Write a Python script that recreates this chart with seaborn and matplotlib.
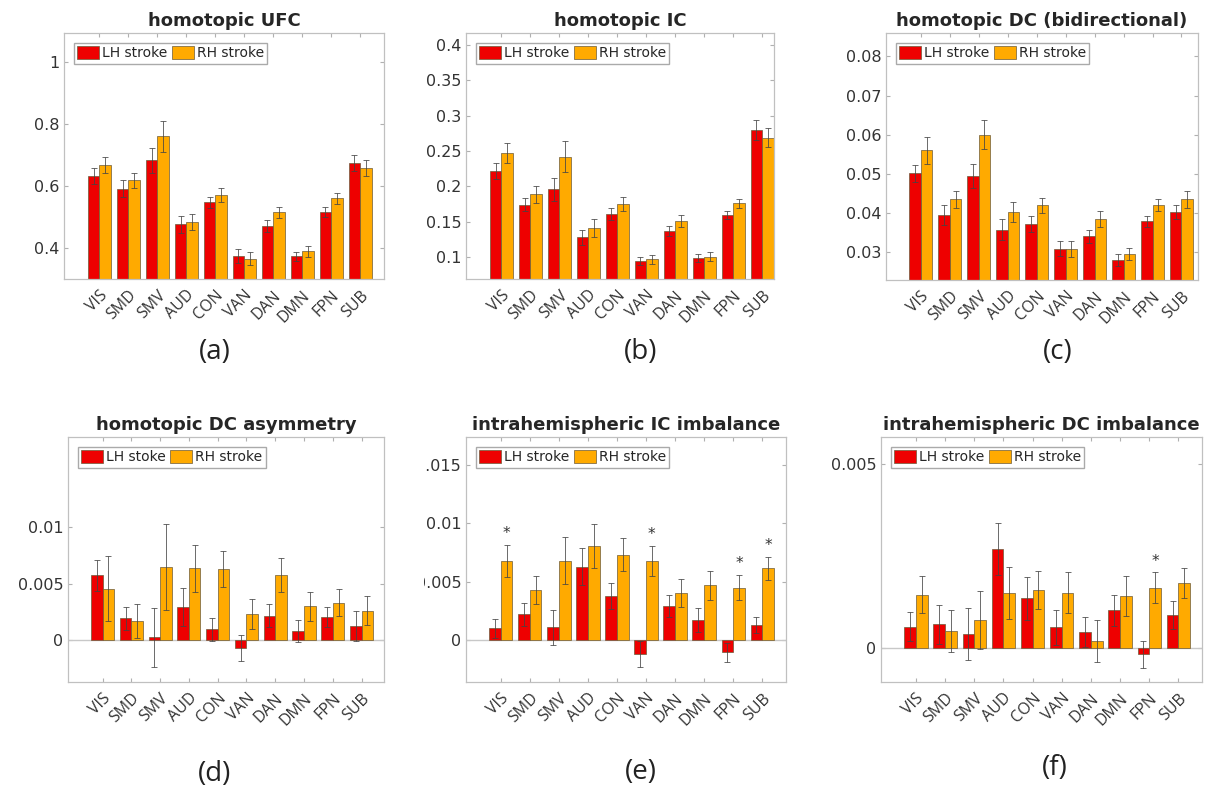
import numpy as np
import pandas as pd
import matplotlib
matplotlib.use("Agg")
import matplotlib.pyplot as plt
from matplotlib.patches import Rectangle
import seaborn as sns

# ── Data ────────────────────────────────────────────────────────────────────
NETWORKS = ["VIS", "SMD", "SMV", "AUD", "CON", "VAN", "DAN", "DMN", "FPN", "SUB"]
COLORS = ["#EE0000", "#FFAA00"]

# (a) homotopic UFC
UFC_LH = [0.633, 0.591, 0.683, 0.477, 0.548, 0.375, 0.471, 0.373, 0.516, 0.674]
UFC_RH = [0.668, 0.618, 0.761, 0.485, 0.570, 0.366, 0.515, 0.390, 0.560, 0.659]
UFC_LH_ERR = [0.026, 0.027, 0.041, 0.027, 0.018, 0.023, 0.018, 0.014, 0.015, 0.026]
UFC_RH_ERR = [0.027, 0.025, 0.050, 0.026, 0.023, 0.022, 0.019, 0.018, 0.017, 0.026]

# (b) homotopic IC
IC_LH = [0.222, 0.174, 0.196, 0.128, 0.161, 0.095, 0.137, 0.099, 0.160, 0.280]
IC_RH = [0.247, 0.189, 0.242, 0.141, 0.175, 0.097, 0.151, 0.101, 0.176, 0.269]
IC_LH_ERR = [0.011, 0.009, 0.016, 0.010, 0.008, 0.006, 0.0075, 0.0056, 0.006, 0.014]
IC_RH_ERR = [0.0136, 0.012, 0.022, 0.0127, 0.0099, 0.0066, 0.0085, 0.0066, 0.0066, 0.014]

# (c) homotopic DC (bidirectional)
DC_LH = [0.0501, 0.0395, 0.0495, 0.0357, 0.0372, 0.0308, 0.0340, 0.0280, 0.0378, 0.0402]
DC_RH = [0.0560, 0.0434, 0.0600, 0.0402, 0.0419, 0.0307, 0.0384, 0.0295, 0.0420, 0.0435]
DC_LH_ERR = [0.0022, 0.0026, 0.0031, 0.0026, 0.0020, 0.0019, 0.0017, 0.0015, 0.0014, 0.0018]
DC_RH_ERR = [0.0034, 0.0023, 0.0037, 0.0026, 0.0020, 0.0020, 0.0020, 0.0015, 0.0016, 0.0022]

# (d) homotopic DC asymmetry
ASYM_LH = [0.00575, 0.00195, 0.00027, 0.00292, 0.00097, -0.00065, 0.00218, 0.0008, 0.00206, 0.00127]
ASYM_RH = [0.00457, 0.00174, 0.00652, 0.00637, 0.00634, 0.00233, 0.00575, 0.0030, 0.00333, 0.00262]
ASYM_LH_ERR = [0.0014, 0.0010, 0.0026, 0.0017, 0.0010, 0.00115, 0.0010, 0.0010, 0.0009, 0.0013]
ASYM_RH_ERR = [0.0029, 0.0015, 0.0038, 0.0021, 0.0016, 0.00136, 0.0015, 0.0013, 0.0012, 0.0013]

# (e) intrahemispheric IC imbalance
ICIMB_LH = [0.00102, 0.00222, 0.00111, 0.00629, 0.00379, -0.0012, 0.00293, 0.00174, -0.00102, 0.00131]
ICIMB_RH = [0.0068, 0.00427, 0.0068, 0.00805, 0.00731, 0.00675, 0.00407, 0.0047, 0.0045, 0.00615]
ICIMB_LH_ERR = [0.00083, 0.0010, 0.0015, 0.00157, 0.0011, 0.0011, 0.00094, 0.0010, 0.0008, 0.00065]
ICIMB_RH_ERR = [0.00137, 0.0012, 0.0020, 0.0019, 0.0014, 0.0013, 0.0012, 0.00125, 0.0011, 0.0010]
ICIMB_STARS = ["VIS", "VAN", "FPN", "SUB"]

# (f) intrahemispheric DC imbalance
DCIMB_LH = [0.00058, 0.00065, 0.00038, 0.00268, 0.00135, 0.00056, 0.00044, 0.00103, -0.00017, 0.00089]
DCIMB_RH = [0.00145, 0.00046, 0.00076, 0.0015, 0.00158, 0.0015, 0.00019, 0.00142, 0.00163, 0.00176]
DCIMB_LH_ERR = [0.0004, 0.00053, 0.00071, 0.0007, 0.00058, 0.00048, 0.0004, 0.00042, 0.00036, 0.00038]
DCIMB_RH_ERR = [0.00051, 0.00057, 0.00078, 0.0007, 0.00051, 0.00056, 0.00057, 0.00054, 0.00042, 0.00041]
DCIMB_STARS = ["FPN"]

# ── Style ───────────────────────────────────────────────────────────────────
sns.set_theme(style="ticks")
plt.rcParams["font.family"] = ["DejaVu Sans"]

W, H = 1206, 789
fig = plt.figure(figsize=(W / 100, H / 100), dpi=100)
fig.patch.set_facecolor("white")


def add_axes(left, top, right, bottom):
    return fig.add_axes([left / W, 1 - bottom / H, (right - left) / W, (bottom - top) / H])


def draw_panel(ax, title, lh, rh, lh_err, rh_err, ylim, yticks, xlim,
               lh_label="LH stroke", stars=(), zero_line=False):
    df = pd.DataFrame({
        "network": NETWORKS * 2,
        "group": [lh_label] * len(NETWORKS) + ["RH stroke"] * len(NETWORKS),
        "value": list(lh) + list(rh),
    })
    sns.barplot(data=df, x="network", y="value", hue="group", palette=COLORS,
                saturation=1, errorbar=None, width=0.8, edgecolor="#6b5a3a",
                linewidth=0.5, ax=ax, zorder=2)

    if zero_line:
        ax.axhline(0, color="#c8c8c8", lw=1.0, zorder=1.5)

    # error bars from the bar centres
    for cont, vals, errs in zip(ax.containers, [lh, rh], [lh_err, rh_err]):
        xs = [p.get_x() + p.get_width() / 2 for p in cont]
        ax.errorbar(xs, vals, yerr=errs, fmt="none", ecolor="#444444",
                    elinewidth=0.7, capsize=2, capthick=0.7, alpha=0.8, zorder=3)
        if cont is ax.containers[1]:
            for name in stars:
                i = NETWORKS.index(name)
                ax.annotate("*", (xs[i], vals[i] + errs[i]), xytext=(0, 8),
                            textcoords="offset points", ha="center", va="center",
                            fontsize=11, color="#333333")

    handles, labels = ax.get_legend_handles_labels()
    ax.legend(handles, labels, ncol=2, loc="upper left", fontsize=10,
              frameon=True, fancybox=False, framealpha=1, edgecolor="#aaaaaa",
              handlelength=1.6, handleheight=1.0, handletextpad=0.2,
              columnspacing=0.3, borderpad=0.25, borderaxespad=0.7)

    ax.set_title(title, fontsize=13, fontweight="bold", pad=5)
    ax.set_xlabel("")
    ax.set_ylabel("")
    ax.set_xlim(*xlim)
    ax.set_ylim(*ylim)
    ax.set_yticks(yticks)
    ax.set_yticklabels([f"{v:g}" for v in np.round(yticks, 4)], fontsize=11.5)
    ax.set_xticks(range(len(NETWORKS)))
    ax.set_xticklabels(NETWORKS, rotation=45, ha="right", rotation_mode="anchor",
                       fontsize=11.5, family="Open Sans")
    ax.tick_params(direction="in", top=True, right=True, length=3, width=0.8,
                   color="#b0b0b0", labelcolor="#333333")
    ax.tick_params(axis="x", pad=6)
    for sp in ax.spines.values():
        sp.set_color("#c0c0c0")
        sp.set_linewidth(0.9)


ax_a = add_axes(64, 33, 384, 279)
draw_panel(ax_a, "homotopic UFC", UFC_LH, UFC_RH, UFC_LH_ERR, UFC_RH_ERR,
           (0.3, 1.094), [0.4, 0.6, 0.8, 1.0], (-1.22, 9.82))

ax_b = add_axes(466, 33, 774, 279)
draw_panel(ax_b, "homotopic IC", IC_LH, IC_RH, IC_LH_ERR, IC_RH_ERR,
           (0.0694, 0.4165), [0.1, 0.15, 0.2, 0.25, 0.3, 0.35, 0.4], (-1.22, 9.41))

ax_c = add_axes(886, 33, 1198, 280)
draw_panel(ax_c, "homotopic DC (bidirectional)", DC_LH, DC_RH, DC_LH_ERR, DC_RH_ERR,
           (0.0228, 0.086), [0.03, 0.04, 0.05, 0.06, 0.07, 0.08], (-1.2, 9.57))

ax_d = add_axes(68, 437, 384, 682)
draw_panel(ax_d, "homotopic DC asymmetry", ASYM_LH, ASYM_RH, ASYM_LH_ERR, ASYM_RH_ERR,
           (-0.0037, 0.018), [0, 0.005, 0.01], (-1.2, 9.78),
           lh_label="LH stoke", zero_line=True)

ax_e = add_axes(466, 437, 786, 682)
draw_panel(ax_e, "intrahemispheric IC imbalance", ICIMB_LH, ICIMB_RH, ICIMB_LH_ERR,
           ICIMB_RH_ERR, (-0.00356, 0.01736), [0, 0.005, 0.01, 0.015], (-1.2, 9.82),
           stars=ICIMB_STARS, zero_line=True)

ax_f = add_axes(881, 437, 1202, 682)
draw_panel(ax_f, "intrahemispheric DC imbalance", DCIMB_LH, DCIMB_RH, DCIMB_LH_ERR,
           DCIMB_RH_ERR, (-0.00092, 0.00572), [0, 0.005], (-1.2, 9.81),
           stars=DCIMB_STARS, zero_line=True)

# panel (e) tick labels are cut on the left in the original composite
fig.add_artist(Rectangle((390 / W, 1 - 700 / H), 34 / W, 270 / H, transform=fig.transFigure,
                         facecolor="white", edgecolor="none", zorder=10))

# ── Panel letters ───────────────────────────────────────────────────────────
for txt, x, y in [("(a)", 215, 352), ("(b)", 641, 352), ("(c)", 1058, 352),
                  ("(d)", 215, 774), ("(e)", 641, 772), ("(f)", 1055, 768)]:
    fig.text(x / W, 1 - y / H, txt, ha="center", va="center", fontsize=20,
             family="Open Sans", color="#222222")

fig.savefig("out.png", dpi=100)
